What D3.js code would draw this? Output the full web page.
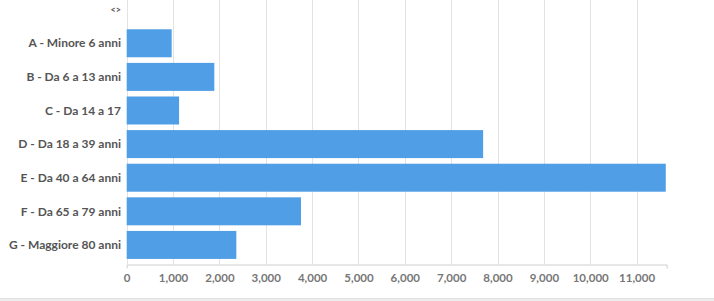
<!DOCTYPE html>
<html><head><meta charset="utf-8">
<script src="https://cdn.jsdelivr.net/npm/d3@7"></script>
<style>
html,body{margin:0;padding:0;background:#fff;}
svg{display:block;}
</style></head>
<body>
<svg id="chart" width="714" height="301"></svg>
<script>
const categories = ["<>", "A - Minore 6 anni", "B - Da 6 a 13 anni", "C - Da 14 a 17", "D - Da 18 a 39 anni", "E - Da 40 a 64 anni", "F - Da 65 a 79 anni", "G - Maggiore 80 anni"];
const values = [null, 970, 1890, 1130, 7690, 11630, 3760, 2365];
const xTicks = [0, 1000, 2000, 3000, 4000, 5000, 6000, 7000, 8000, 9000, 10000, 11000];
const xMax = 11650;

const svg = d3.select("#chart");
const W = 714, H = 301;
const left = 126.7, right = 666.7, axisY = 264.3;

svg.append("rect").attr("x",0).attr("y",298.5).attr("width",W).attr("height",3).attr("fill","#ededed");
svg.append("line").attr("x1",0).attr("x2",W).attr("y1",298.5).attr("y2",298.5).attr("stroke","#e2e2e2");

const x = d3.scaleLinear().domain([0, xMax]).range([left, right]);
const y = d3.scaleBand().domain(categories).range([-9.7, axisY]).paddingInner(0.167).paddingOuter(0.16);

// gridlines
svg.append("g").selectAll("line").data(xTicks).join("line")
  .attr("x1", d => Math.round(x(d))+0.5).attr("x2", d => Math.round(x(d))+0.5)
  .attr("y1", 0).attr("y2", axisY)
  .attr("stroke", "#e3e3e3").attr("stroke-width", 1);

// bars
svg.append("g").selectAll("rect").data(categories.map((c,i)=>({c, v: values[i]})).filter(d=>d.v!=null)).join("rect")
  .attr("x", x(0)).attr("y", d => y(d.c))
  .attr("width", d => x(d.v) - x(0)).attr("height", y.bandwidth())
  .attr("fill", "#4f9ee6");

// x axis
const xAxis = d3.axisBottom(x).tickValues(xTicks).tickSizeInner(0).tickSizeOuter(4).tickPadding(9)
  .tickFormat(d3.format(","));
const gx = svg.append("g").attr("transform", `translate(0,${Math.round(axisY)+0.5})`).call(xAxis);
gx.select(".domain").attr("stroke", "#cfcfcf");
gx.selectAll("text").attr("fill", "#777").style("font-family", "Lato").style("font-weight", "bold").style("font-size", "11.5px");

// y labels
svg.append("g").selectAll("text").data(categories).join("text")
  .attr("x", 121).attr("y", d => y(d) + y.bandwidth()/2)
  .attr("dy", "0.35em").attr("text-anchor", "end")
  .attr("fill", "#555").style("font-family", "Lato").style("font-weight", "bold")
  .style("font-size", d => d === "<>" ? "9px" : "12px")
  .text(d => d);
</script>
</body></html>
